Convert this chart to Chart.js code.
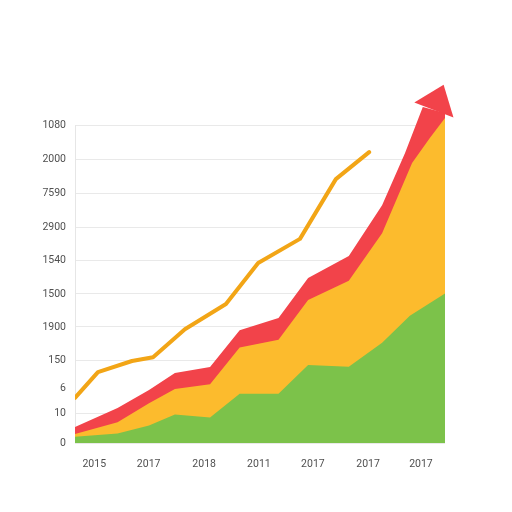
<!DOCTYPE html>
<html>
<head>
<meta charset="utf-8">
<script src="https://cdn.jsdelivr.net/npm/chart.js@4.4.1/dist/chart.umd.min.js"></script>
<style>
  html, body { margin: 0; padding: 0; background: #fff; }
  #chart { display: block; }
</style>
</head>
<body>
<canvas id="chart" width="512" height="512"></canvas>
<script>
// values (axis units 0-100 on both axes)
const xTickValues = [5.2, 19.9, 34.9, 49.7, 64.3, 79.2, 93.5];
const xTickLabels = ['2015', '2017', '2018', '2011', '2017', '2017', '2017'];
const yTickValues = [0, 9.4, 17.3, 26.1, 36.5, 46.9, 57.5, 67.9, 78.6, 89.3, 100];
const yTickLabels = ['0', '10', '6', '150', '1900', '1500', '1540', '2900', '7590', '2000', '1080'];

const greenX = [0, 11.5, 20, 27, 36.5, 44.5, 55, 63, 74, 83, 90.5, 100];
const greenValues = [2, 3, 5.5, 9, 8, 15.5, 15.5, 24.5, 24, 31.5, 40, 47];

const orangeX = [0, 11.5, 20, 27, 36.5, 44.5, 55, 63, 74, 83, 91.1, 95.9, 100];
const orangeValues = [2.8, 6.5, 12.5, 17, 18.5, 30, 32.5, 45, 51, 66, 88.1, 95.9, 102.2];

const redX = [0, 11.5, 20, 27, 36.5, 44.5, 55, 63, 74, 83, 89.2, 94, 100];
const redValues = [5, 11, 16.7, 22, 23.9, 35.5, 39.3, 51.9, 58.8, 74.8, 91.2, 105.7, 103.8];

const lineX = [0, 6.2, 15.4, 21.1, 29.7, 40.8, 49.5, 60.8, 70.5, 79.5];
const lineValues = [14.2, 22.3, 25.8, 27, 35.8, 43.7, 56.6, 64.2, 83, 91.5];

function toPoints(xs, ys) {
  return xs.map((x, i) => ({ x: x, y: ys[i] }));
}

// left axis line, only up to the top tick
const leftAxisLine = {
  id: 'leftAxisLine',
  beforeDatasetsDraw(chart) {
    const y = chart.scales.y;
    const ctx = chart.ctx;
    ctx.save();
    ctx.strokeStyle = '#e6e6e6';
    ctx.lineWidth = 1;
    ctx.beginPath();
    ctx.moveTo(y.right + 0.5, y.getPixelForValue(100));
    ctx.lineTo(y.right + 0.5, y.getPixelForValue(0));
    ctx.stroke();
    ctx.restore();
  }
};

// arrow head at the end of the red band
const arrowHead = {
  id: 'arrowHead',
  afterDatasetsDraw(chart) {
    const pts = chart.getDatasetMeta(2).data;
    const n = pts.length;
    const a = pts[n - 3], b = pts[n - 2], c = pts[n - 1];
    let dx = b.x - a.x, dy = b.y - a.y;
    const len = Math.sqrt(dx * dx + dy * dy);
    dx /= len; dy /= len;
    const mx = (b.x + c.x) / 2, my = (b.y + c.y) / 2;
    const ctx = chart.ctx;
    ctx.save();
    ctx.fillStyle = '#f2434a';
    ctx.beginPath();
    ctx.moveTo(mx + dx * 27, my + dy * 27);
    ctx.lineTo(mx - dy * 21, my + dx * 21);
    ctx.lineTo(mx + dy * 21, my - dx * 21);
    ctx.closePath();
    ctx.fill();
    ctx.restore();
  }
};

const ctx = document.getElementById('chart').getContext('2d');
const chart = new Chart(ctx, {
  type: 'line',
  data: {
    datasets: [{
      data: toPoints(greenX, greenValues),
      backgroundColor: '#7cc24a',
      borderWidth: 0,
      fill: 'origin',
      order: 1
    }, {
      data: toPoints(orangeX, orangeValues),
      backgroundColor: '#fcbb2d',
      borderWidth: 0,
      fill: 'origin',
      order: 2
    }, {
      data: toPoints(redX, redValues),
      backgroundColor: '#f2434a',
      borderWidth: 0,
      fill: 'origin',
      order: 3
    }, {
      data: toPoints(lineX, lineValues),
      borderColor: '#f2a516',
      borderWidth: 4,
      borderCapStyle: 'round',
      borderJoinStyle: 'round',
      fill: false,
      order: 0
    }]
  },
  options: {
    responsive: false,
    animation: false,
    layout: { padding: { top: 106, right: 67, bottom: 0, left: 0 } },
    elements: { point: { radius: 0 }, line: { tension: 0 } },
    plugins: { legend: { display: false }, tooltip: { enabled: false } },
    scales: {
      x: {
        type: 'linear',
        min: 0,
        max: 100,
        afterBuildTicks: scale => { scale.ticks = xTickValues.map(v => ({ value: v })); },
        afterFit: scale => { scale.height = 69; },
        grid: { display: false },
        border: { display: false },
        ticks: {
          padding: 7,
          maxRotation: 0,
          autoSkip: false,
          color: '#505050',
          font: { family: 'Roboto', size: 10.5 },
          callback: (value, index) => xTickLabels[index]
        }
      },
      y: {
        min: 0,
        max: 106,
        afterBuildTicks: scale => { scale.ticks = yTickValues.map(v => ({ value: v })); },
        afterFit: scale => { scale.width = 75; },
        grid: {
          drawTicks: false,
          color: c => (c.tick && c.tick.value === 17.3) ? 'rgba(0,0,0,0)' : '#e9e9e9'
        },
        border: { display: false },
        ticks: {
          padding: 9,
          autoSkip: false,
          color: '#505050',
          font: { family: 'Roboto', size: 10.5 },
          callback: (value, index) => yTickLabels[index]
        }
      }
    }
  },
  plugins: [leftAxisLine, arrowHead]
});
</script>
</body>
</html>
